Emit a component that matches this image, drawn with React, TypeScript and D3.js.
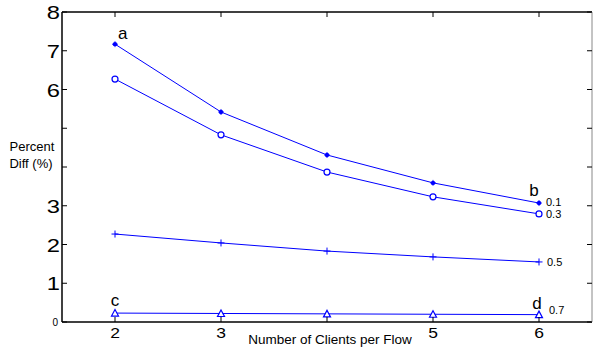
import React from "react";
import * as d3 from "d3";

const clients = [2, 3, 4, 5, 6];
const s01 = [7.17, 5.42, 4.31, 3.59, 3.07];
const s03 = [6.27, 4.83, 3.87, 3.23, 2.79];
const s05 = [2.27, 2.04, 1.83, 1.68, 1.55];
const s07 = [0.23, 0.22, 0.21, 0.2, 0.19];
const seriesNames = ["0.1", "0.3", "0.5", "0.7"];
const yTicks = [0, 1, 2, 3, 4, 5, 6, 7, 8];
const yLabels: Record<number, string> = { 0: "0", 1: "1", 2: "2", 3: "3", 6: "6", 7: "7", 8: "8" };
const xLabels: Record<number, string> = { 2: "2", 3: "3", 5: "5", 6: "6" };

const W = 594, H = 350;
const L = 62, R = 592, T = 12, B = 322;

export default function App() {
  const x = d3.scaleLinear().domain([1.5, 6.5]).range([L, R]);
  const y = d3.scaleLinear().domain([0, 8]).range([B, T]);
  const line = d3.line<number>().x((_, i) => x(clients[i])).y((d) => y(d));
  const all = [s01, s03, s05, s07];
  const blue = "#0000ff";
  const font = "Liberation Sans, Arial, sans-serif";
  const marker = (k: number, cx: number, cy: number, key: string) => {
    if (k === 0)
      return (
        <g key={key}>
          <circle cx={cx} cy={cy} r={2.2} fill={blue} />
          <path d={`M${cx - 3},${cy}H${cx + 3}M${cx},${cy - 3}V${cy + 3}`} stroke={blue} strokeWidth={0.8} />
        </g>
      );
    if (k === 1) return <circle key={key} cx={cx} cy={cy} r={3} fill="white" stroke={blue} strokeWidth={1.2} />;
    if (k === 2)
      return <path key={key} d={`M${cx - 3.5},${cy}H${cx + 3.5}M${cx},${cy - 3.5}V${cy + 3.5}`} stroke={blue} strokeWidth={1} />;
    return (
      <path key={key} d={`M${cx - 3.5},${cy + 3}L${cx + 3.5},${cy + 3}L${cx},${cy - 3.5}Z`} fill="white" stroke={blue} strokeWidth={1.2} />
    );
  };
  const last = clients.length - 1;
  const nameOffsets = [[7, 3], [7, 4], [8, 4], [10, -1]];
  return (
    <svg width={W} height={H} style={{ position: "absolute", left: 0, top: 0, background: "white" }} fontFamily={font}>
      <rect x={0} y={0} width={W} height={H} fill="white" />
      {all.map((s, k) => (
        <g key={k}>
          <path d={line(s) || ""} fill="none" stroke={blue} strokeWidth={1} />
          {s.map((v, i) => marker(k, x(clients[i]), y(v), `${k}-${i}`))}
          <text x={x(clients[last]) + nameOffsets[k][0]} y={y(s[last]) + nameOffsets[k][1]} fontSize={11} fill="#000">
            {seriesNames[k]}
          </text>
        </g>
      ))}
      <text x={x(2) + 3} y={y(s01[0]) - 5} fontSize={17}>a</text>
      <text x={x(6) - 5} y={y(s01[last]) - 7} fontSize={17} textAnchor="middle">b</text>
      <text x={x(2)} y={y(s07[0]) - 7} fontSize={17} textAnchor="middle">c</text>
      <text x={x(6) - 2} y={y(s07[last]) - 6} fontSize={17} textAnchor="middle">d</text>
      {/* axes box */}
      <line x1={L} x2={R} y1={B} y2={B} stroke="#000" strokeWidth={1.5} />
      <line x1={L} x2={L} y1={T} y2={B} stroke="#000" strokeWidth={1.5} />
      <line x1={L} x2={R} y1={T} y2={T} stroke="#000" strokeWidth={1.5} />
      <line x1={R} x2={R} y1={T} y2={B} stroke="#888" strokeWidth={1} />
      {yTicks.map((t) => (
        <g key={t}>
          <line x1={L} x2={L + 5} y1={y(t)} y2={y(t)} stroke="#000" />
          <line x1={R - 5} x2={R} y1={y(t)} y2={y(t)} stroke="#000" />
          {yLabels[t] !== undefined &&
            (t === 0 ? (
              <text x={L - 4} y={y(t) + 4} textAnchor="end" fontSize={10}>
                {yLabels[t]}
              </text>
            ) : (
              <text
                transform={`translate(${L - 2},${y(t) + 7}) scale(1.25,1)`}
                textAnchor="end"
                fontSize={19}
              >
                {yLabels[t]}
              </text>
            ))}
        </g>
      ))}
      {clients.map((c) => (
        <g key={c}>
          <line x1={x(c)} x2={x(c)} y1={B} y2={B - 5} stroke="#000" />
          <line x1={x(c)} x2={x(c)} y1={T} y2={T + 5} stroke="#000" />
          {xLabels[c] && (
            <text transform={`translate(${x(c)},${B + 16}) scale(1.25,1)`} textAnchor="middle" fontSize={14}>
              {xLabels[c]}
            </text>
          )}
        </g>
      ))}
      <text x={(L + R) / 2 + 3} y={H - 6} textAnchor="middle" fontSize={13.5}>
        Number of Clients per Flow
      </text>
      <text x={32} y={151} textAnchor="middle" fontSize={13}>
        <tspan x={32} dy={0}>Percent</tspan>
        <tspan x={31} dy={17}>Diff (%)</tspan>
      </text>
    </svg>
  );
}
